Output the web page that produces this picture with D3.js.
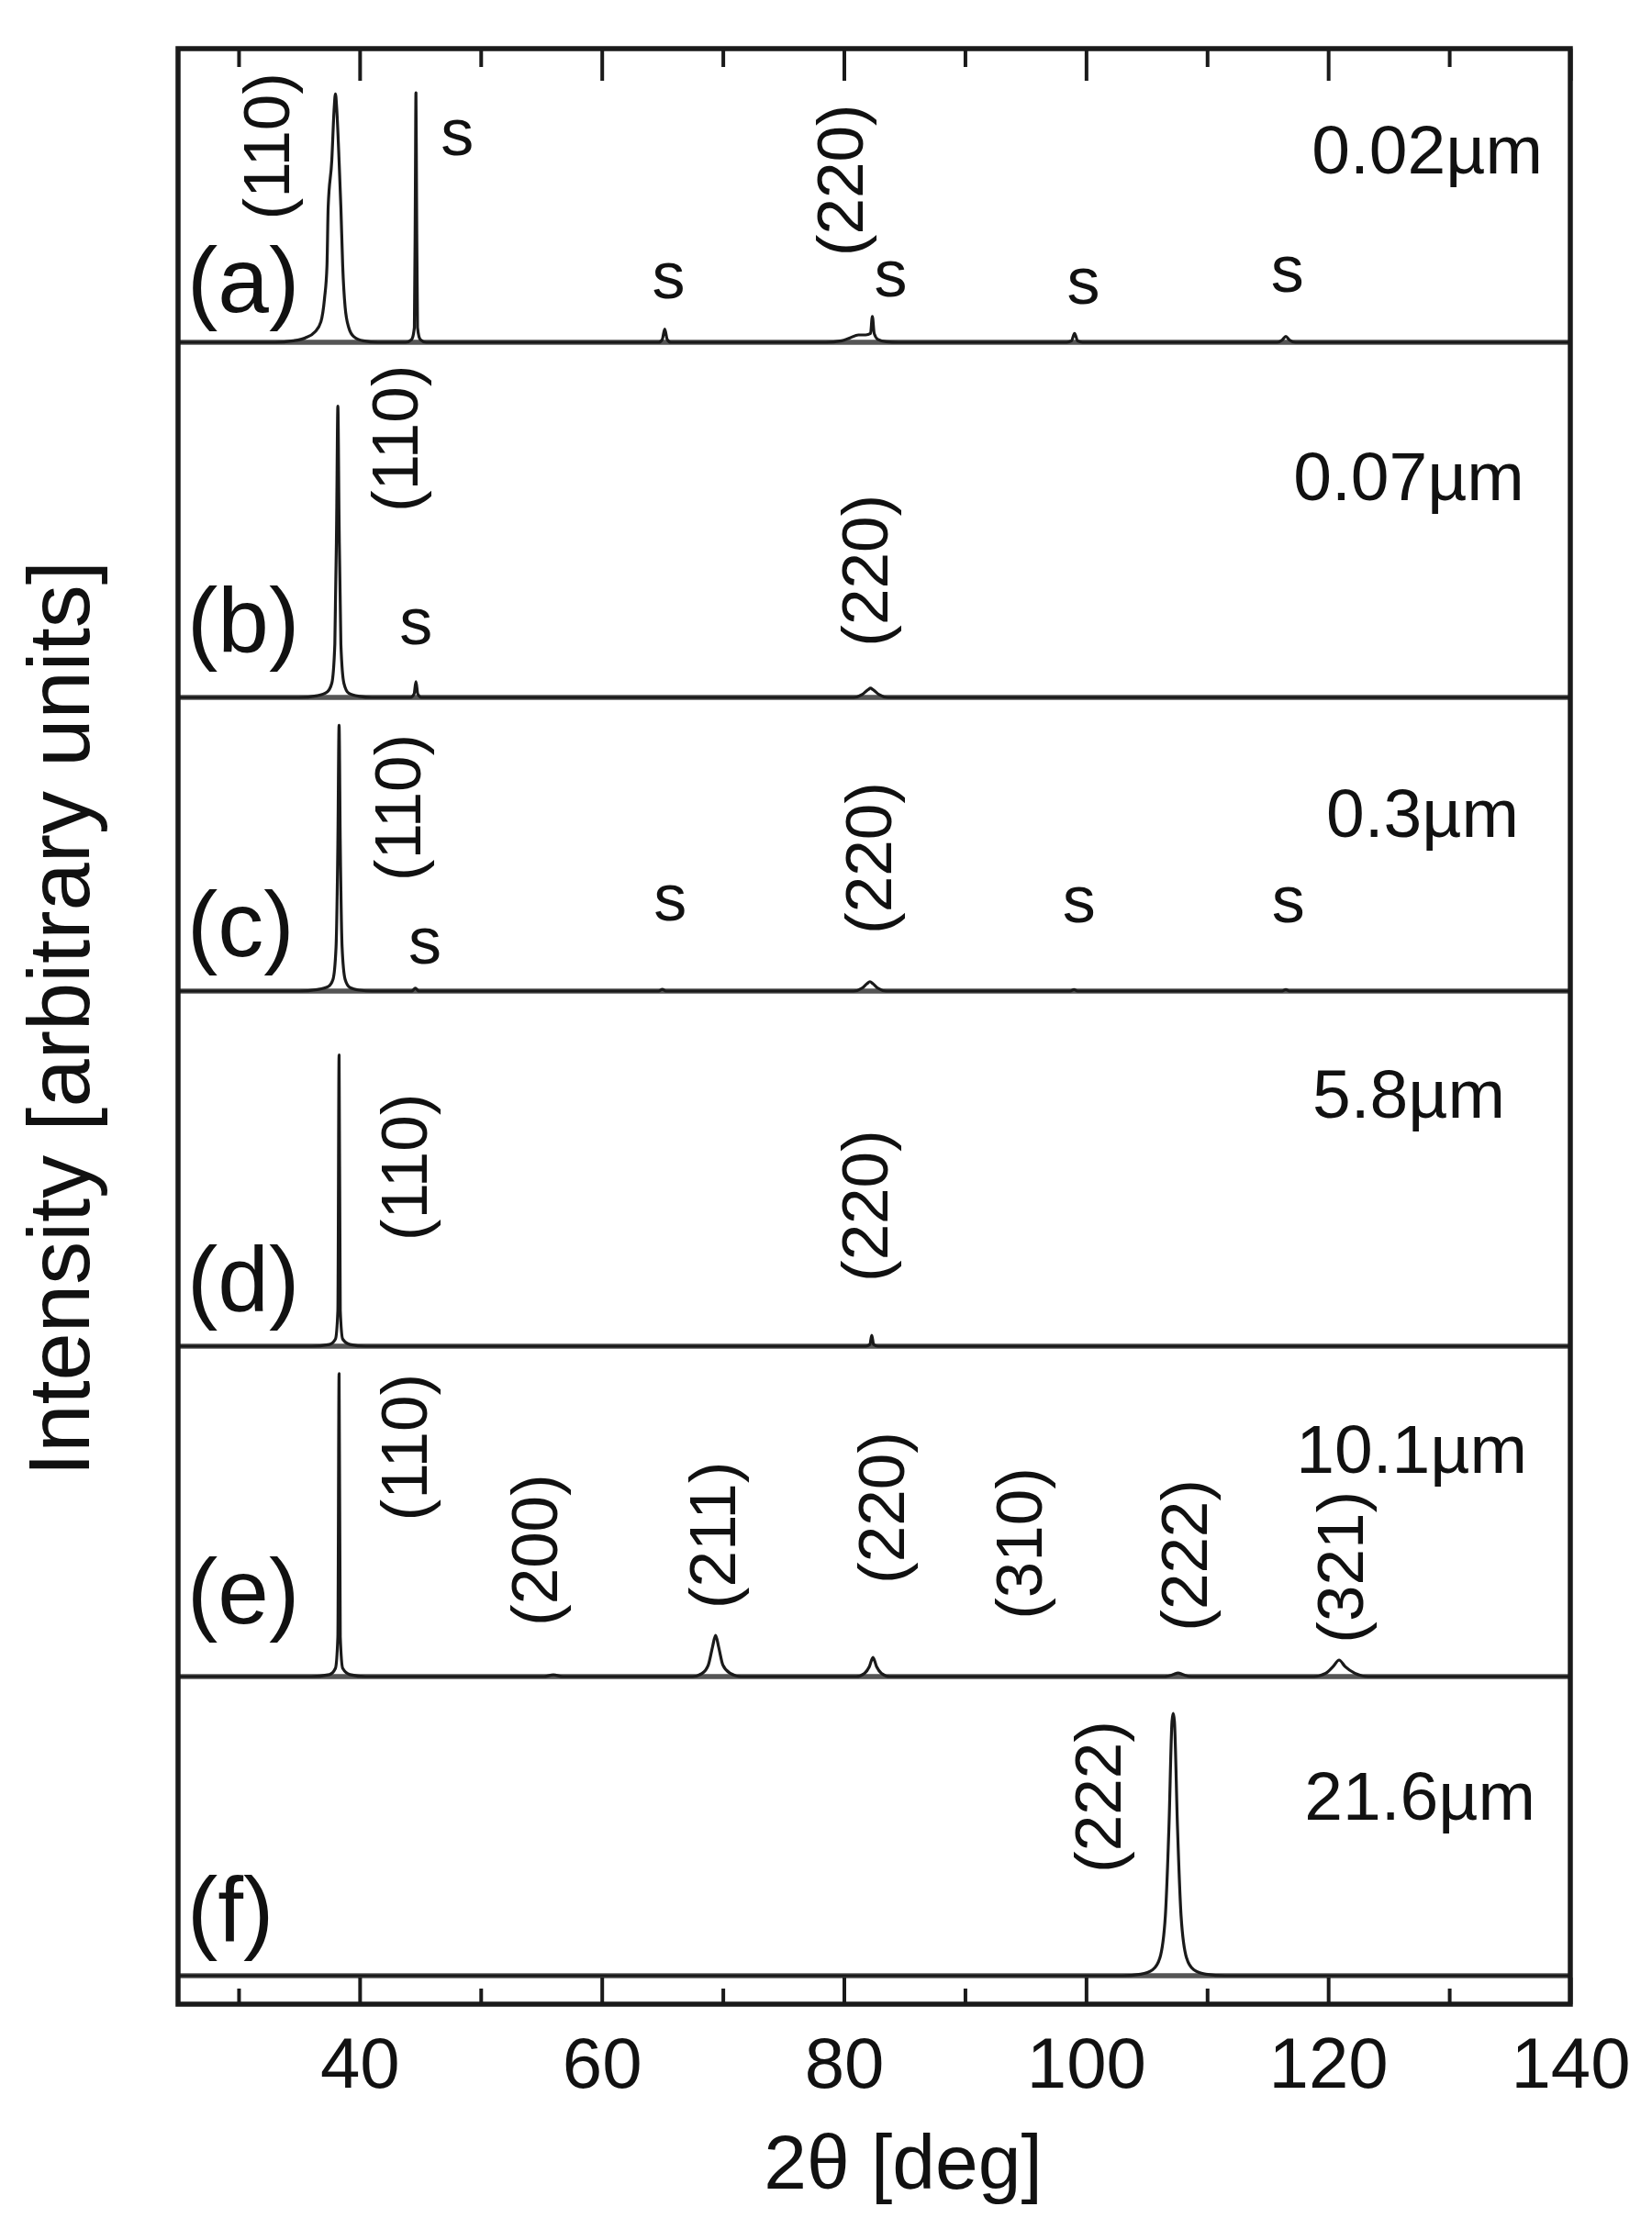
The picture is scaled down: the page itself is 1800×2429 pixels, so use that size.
<!DOCTYPE html>
<html>
<head>
<meta charset="utf-8">
<script src="https://cdn.jsdelivr.net/npm/d3@7"></script>
<style>
  body { margin: 0; background: #fff; }
  text { font-family: Arial, "Liberation Sans", sans-serif; fill: #111; }
</style>
</head>
<body>
<svg id="chart" width="1800" height="2429"></svg>
<script>
// ---------------- DATA ----------------
const panelIds = ["(a)", "(b)", "(c)", "(d)", "(e)", "(f)"];
const thicknessLabels = ["0.02µm", "0.07µm", "0.3µm", "5.8µm", "10.1µm", "21.6µm"];
const xTickValues = [40, 60, 80, 100, 120, 140];
const xMinorTickValues = [30, 50, 70, 90, 110, 130];
const xTitle = "2θ [deg]";
const yTitle = "Intensity [arbitrary units]";

// spectra: [2θ (deg), relative intensity]
const spectrumA = [
  [25,0],[33,0],[34.5,0.005],[35.5,0.015],[36.3,0.035],[36.8,0.07],[37.1,0.15],[37.3,0.26],
  [37.4,0.46],[37.7,0.62],[37.9,0.8],[38.0,0.846],[38.1,0.8],[38.3,0.62],[38.45,0.46],
  [38.6,0.26],[38.8,0.12],[39.1,0.05],[39.5,0.02],[40.3,0.005],[41.5,0],
  [43.8,0],[44.3,0.01],[44.52,0.05],[44.6,0.5],[44.65,0.85],[44.7,0.5],[44.78,0.05],[45.0,0.01],[45.5,0],
  [64.7,0],[65.0,0.01],[65.2,0.045],[65.4,0.01],[65.7,0],
  [78.5,0],[79.8,0.005],[80.5,0.015],[81.2,0.025],[81.8,0.025],[82.2,0.03],[82.35,0.088],
  [82.5,0.03],[82.8,0.01],[83.5,0.002],[84.5,0],
  [98.4,0],[98.8,0.005],[99.05,0.03],[99.3,0.005],[99.7,0],
  [115.8,0],[116.2,0.008],[116.5,0.02],[116.8,0.008],[117.3,0],
  [140,0]
];
const spectrumB = [
  [25,0],[35,0],[36.5,0.005],[37.3,0.015],[37.7,0.04],[37.95,0.15],[38.1,0.5],[38.2,0.82],
  [38.3,0.5],[38.45,0.15],[38.7,0.04],[39.1,0.012],[40,0.003],[41,0],
  [44.2,0],[44.5,0.01],[44.65,0.044],[44.8,0.01],[45.1,0],
  [80.8,0],[81.5,0.008],[82.0,0.022],[82.2,0.026],[82.4,0.022],[82.9,0.008],[83.6,0],
  [140,0]
];
const spectrumC = [
  [25,0],[35,0],[36.5,0.005],[37.4,0.015],[37.8,0.04],[38.05,0.15],[38.2,0.5],[38.3,0.905],
  [38.4,0.5],[38.55,0.15],[38.8,0.04],[39.2,0.012],[40,0.003],[41,0],
  [44.3,0],[44.6,0.01],[44.9,0],
  [64.7,0],[65.0,0.006],[65.3,0],
  [80.8,0],[81.5,0.01],[81.9,0.025],[82.15,0.032],[82.4,0.025],[82.8,0.01],[83.5,0],
  [98.7,0],[99.0,0.005],[99.3,0],
  [116.2,0],[116.5,0.005],[116.8,0],
  [140,0]
];
const spectrumD = [
  [25,0],[36,0],[37.5,0.005],[38.0,0.02],[38.2,0.1],[38.3,0.82],[38.4,0.1],[38.6,0.02],[39.2,0.005],[40.5,0],
  [81.8,0],[82.15,0.005],[82.3,0.031],[82.45,0.005],[82.8,0],
  [140,0]
];
const spectrumE = [
  [25,0],[36,0],[37.5,0.006],[38.0,0.025],[38.2,0.12],[38.3,0.917],[38.4,0.12],[38.6,0.025],[39.2,0.006],[40.5,0],
  [55.2,0],[56.0,0.005],[56.8,0],
  [67.5,0],[68.3,0.01],[68.8,0.035],[69.15,0.09],[69.4,0.125],[69.65,0.09],[70.0,0.035],[70.6,0.01],[71.5,0],
  [81.0,0],[81.7,0.01],[82.1,0.03],[82.4,0.058],[82.7,0.03],[83.1,0.01],[83.8,0],
  [106.5,0],[107.2,0.006],[107.6,0.011],[108.0,0.006],[108.7,0],
  [118.8,0],[119.8,0.01],[120.4,0.03],[120.9,0.05],[121.4,0.03],[122.2,0.01],[123.3,0],
  [140,0]
];
const spectrumF = [
  [25,0],[103,0],[104.5,0.005],[105.5,0.02],[106.1,0.06],[106.55,0.2],[106.85,0.5],[107.1,0.85],
  [107.2,0.877],[107.3,0.85],[107.55,0.5],[107.85,0.2],[108.3,0.06],[108.9,0.02],[109.9,0.005],[111.5,0],
  [140,0]
];
const spectra = [spectrumA, spectrumB, spectrumC, spectrumD, spectrumE, spectrumF];

// peak (Miller index) labels: panel, text, 2θ anchor, relative height anchor
const millerLabels = [
  [0, "(110)", 32.28, 0.668], [0, "(220)", 79.69, 0.552],
  [1, "(110)", 42.90, 0.729], [1, "(220)", 81.74, 0.357],
  [2, "(110)", 43.13, 0.625], [2, "(220)", 82.04, 0.453],
  [3, "(110)", 43.66, 0.504], [3, "(220)", 81.74, 0.395],
  [4, "(110)", 43.66, 0.694], [4, "(200)", 54.43, 0.383], [4, "(211)", 69.15, 0.428],
  [4, "(220)", 83.11, 0.511], [4, "(310)", 94.48, 0.403], [4, "(222)", 108.14, 0.367],
  [4, "(321)", 121.03, 0.331],
  [5, "(222)", 101.0, 0.598]
];
// substrate peak markers "s": panel, 2θ anchor, relative height anchor
const substrateLabels = [
  [0, 48.06, 0.636], [0, 65.51, 0.150], [0, 83.86, 0.157], [0, 99.79, 0.132], [0, 116.63, 0.172],
  [1, 44.65, 0.150],
  [2, 45.40, 0.094], [2, 65.66, 0.241], [2, 99.42, 0.234], [2, 116.71, 0.234]
];
// thickness label anchors (right end): 2θ, relative height
const thicknessAnchorX = [137.72, 136.20, 135.75, 134.61, 136.43, 137.11];
const thicknessAnchorY = [0.574, 0.556, 0.525, 0.643, 0.617, 0.521];

// ---------------- LAYOUT ----------------
const W = 1800, H = 2429;
const frameLeft = 194, frameRight = 1711, frameTop = 53, frameBottom = 2184;
const panelTops = [53, 373, 760, 1080, 1467, 1827];
const panelBases = [373, 760, 1080, 1467, 1827, 2153];
const panelLabelBase = [340, 711, 1042, 1429, 1769, 2116];

const svg = d3.select("#chart");
svg.append("rect").attr("width", W).attr("height", H).attr("fill", "#fff");

const x = d3.scaleLinear().domain([25, 140]).range([frameLeft, frameRight]);
const yScales = panelTops.map((t, i) => d3.scaleLinear().domain([0, 1]).range([panelBases[i], t]));

// panel separators (baselines)
svg.append("g").selectAll("line").data(panelBases).join("line")
  .attr("x1", frameLeft).attr("x2", frameRight)
  .attr("y1", d => d).attr("y2", d => d)
  .attr("stroke", "#555").attr("stroke-width", 5.5);

// spectra
spectra.forEach((s, i) => {
  const line = d3.line().x(d => x(d[0])).y(d => yScales[i](d[1])).curve(d3.curveMonotoneX);
  svg.append("path").datum(s).attr("d", line)
    .attr("fill", "none").attr("stroke", "#1a1a1a").attr("stroke-width", 3.2)
    .attr("stroke-linejoin", "round");
});

// axes: top (ticks only) and bottom (ticks + labels), ticks point inward
const topMajor = svg.append("g").attr("transform", `translate(0,${frameTop})`)
  .call(d3.axisTop(x).tickValues(xTickValues).tickSize(-35).tickFormat(""));
const topMinor = svg.append("g").attr("transform", `translate(0,${frameTop})`)
  .call(d3.axisTop(x).tickValues(xMinorTickValues).tickSize(-20).tickFormat(""));
const botMajor = svg.append("g").attr("transform", `translate(0,${frameBottom})`)
  .call(d3.axisBottom(x).tickValues(xTickValues).tickSize(-29).tickPadding(36).tickFormat(d3.format("d")));
const botMinor = svg.append("g").attr("transform", `translate(0,${frameBottom})`)
  .call(d3.axisBottom(x).tickValues(xMinorTickValues).tickSize(-17).tickFormat(""));
[topMajor, topMinor, botMajor, botMinor].forEach(g => {
  g.select(".domain").remove();
  g.selectAll(".tick line").attr("stroke", "#1a1a1a").attr("stroke-width", 4);
});
botMajor.selectAll(".tick text")
  .attr("font-size", 78).attr("fill", "#111")
  .style("font-family", 'Arial, "Liberation Sans", sans-serif');

// frame
svg.append("rect")
  .attr("x", frameLeft).attr("y", frameTop)
  .attr("width", frameRight - frameLeft).attr("height", frameBottom - frameTop)
  .attr("fill", "none").attr("stroke", "#1a1a1a").attr("stroke-width", 5.5);

// panel id labels
svg.append("g").selectAll("text").data(panelIds).join("text")
  .attr("x", frameLeft + 10).attr("y", (d, i) => panelLabelBase[i])
  .attr("font-size", 100).text(d => d);

// thickness labels
svg.append("g").selectAll("text").data(thicknessLabels).join("text")
  .attr("x", (d, i) => x(thicknessAnchorX[i]))
  .attr("y", (d, i) => yScales[i](thicknessAnchorY[i]))
  .attr("text-anchor", "end").attr("font-size", 75).text(d => d);

// Miller index labels (rotated)
svg.append("g").selectAll("text").data(millerLabels).join("text")
  .attr("transform", d => `translate(${x(d[2])},${yScales[d[0]](d[3])}) rotate(-90)`)
  .attr("text-anchor", "middle").attr("dominant-baseline", "central")
  .attr("font-size", 71).text(d => d[1]);

// substrate labels
svg.append("g").selectAll("text").data(substrateLabels).join("text")
  .attr("x", d => x(d[1])).attr("y", d => yScales[d[0]](d[2]))
  .attr("text-anchor", "middle").attr("font-size", 72).text("s");

// axis titles
svg.append("text").attr("x", 984).attr("y", 2385)
  .attr("text-anchor", "middle").attr("font-size", 84).text(xTitle);
svg.append("text").attr("transform", "translate(97,1110) rotate(-90)")
  .attr("text-anchor", "middle").attr("font-size", 94).text(yTitle);
</script>
</body>
</html>
